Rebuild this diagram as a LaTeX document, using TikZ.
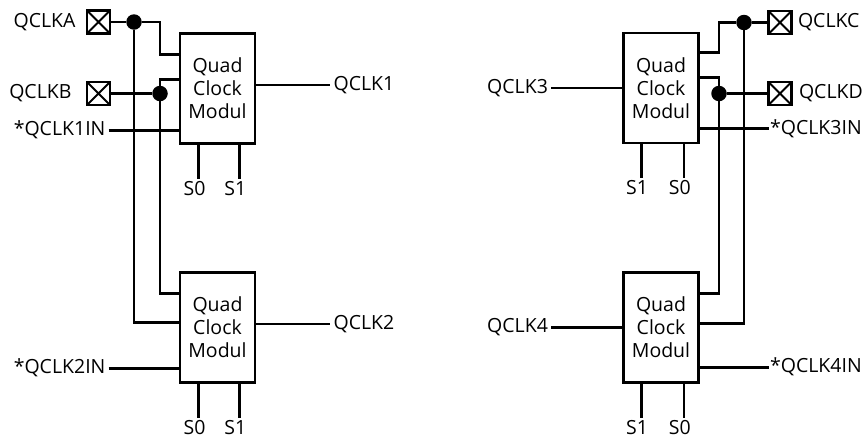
\documentclass[tikz,border=0pt]{standalone}
\usepackage{fontspec}
\setmainfont{Open Sans}
\usetikzlibrary{positioning,calc}

\begin{document}
\begin{tikzpicture}[x=1pt,y=-1pt,
    every node/.style={font=\fontsize{19.5}{23}\selectfont},
    wire/.style={line width=2.8pt},
    module/.style={draw,line width=2.8pt,rectangle,minimum width=75pt,minimum height=110pt,inner sep=0pt,align=center},
    pad/.style={draw,line width=2.6pt,rectangle,minimum size=23pt,inner sep=0pt,
        path picture={\draw[line width=2pt] (path picture bounding box.north west) -- (path picture bounding box.south east)
            (path picture bounding box.south west) -- (path picture bounding box.north east);}},
    junction/.style={circle,fill,minimum size=15.5pt,inner sep=0pt},
    sig/.style={inner sep=3pt},
    pinlbl/.style={inner sep=2pt,xshift=-4pt}]
    \useasboundingbox (0,0) rectangle (867,440);

    % modules
    \node (box1) [module] at (217.5,88.5) {Quad\\Clock\\Modul};
    \node (box2) [module] at (217.5,327.5) {Quad\\Clock\\Modul};
    \node (box3) [module] at (661,88) {Quad\\Clock\\Modul};
    \node (box4) [module] at (661,327.5) {Quad\\Clock\\Modul};

    % inputs on the modules
    \coordinate (b1a) at ($(box1.north west)+(0,22)$);
    \coordinate (b1b) at ($(box1.north west)+(0,47)$);
    \coordinate (b1c) at ($(box1.north west)+(0,98)$);
    \coordinate (b2a) at ($(box2.north west)+(0,22)$);
    \coordinate (b2b) at ($(box2.north west)+(0,51)$);
    \coordinate (b2c) at ($(box2.north west)+(0,97)$);
    \coordinate (b3a) at ($(box3.north east)+(0,21)$);
    \coordinate (b3b) at ($(box3.north east)+(0,46)$);
    \coordinate (b3c) at ($(box3.north east)+(0,97)$);
    \coordinate (b4a) at ($(box4.north east)+(0,22)$);
    \coordinate (b4b) at ($(box4.north east)+(0,52)$);
    \coordinate (b4c) at ($(box4.north east)+(0,96)$);

    % clock pads
    \node (padA) [pad] at (98.5,22) {};
    \node (padB) [pad] at (98.5,93.5) {};
    \node (padC) [pad] at (780,22.5) {};
    \node (padD) [pad] at (780,93.5) {};
    \node (lblA) [sig, left=7pt of padA] {QCLKA};
    \node (lblB) [sig, left=11pt of padB] {QCLKB};
    \node (lblC) [sig, right=2pt of padC] {QCLKC};
    \node (lblD) [sig, right=3pt of padD] {QCLKD};

    \node (dotA) [junction] at (134,22) {};
    \node (dotB) [junction] at (160,93.5) {};
    \node (dotC) [junction] at (744,22.5) {};
    \node (dotD) [junction] at (719,93.5) {};

    % left clock tree
    \draw[wire] (padA) -- (dotA) -| (dotB |- b1a) -- (b1a);
    \draw[wire] (dotA) |- (b2b);
    \draw[wire] (padB) -- (dotB);
    \draw[wire] (b1b) -| (dotB |- b2a) -- (b2a);

    % right clock tree
    \draw[wire] (padC) -- (dotC) -| (dotD |- b3a) -- (b3a);
    \draw[wire] (dotC) |- (b4b);
    \draw[wire] (padD) -- (dotD);
    \draw[wire] (b3b) -| (dotD |- b4a) -- (b4a);

    % feedback inputs
    \node (in1) [sig, left=70pt of b1c] {*QCLK1IN};
    \node (in2) [sig, left=70pt of b2c] {*QCLK2IN};
    \node (in3) [sig, inner sep=1pt, right=69pt of b3c] {*QCLK3IN};
    \node (in4) [sig, inner sep=1pt, right=69pt of b4c] {*QCLK4IN};
    \draw[wire] (in1) -- (b1c);
    \draw[wire] (in2) -- (b2c);
    \draw[wire] (b3c) -- (in3);
    \draw[wire] (b4c) -- (in4);

    % clock outputs
    \node (out1) [sig, right=74pt of box1, yshift=3.5pt] {QCLK1};
    \node (out2) [sig, right=74pt of box2, yshift=3.5pt] {QCLK2};
    \node (out3) [sig, left=71pt of box3] {QCLK3};
    \node (out4) [sig, left=71pt of box4] {QCLK4};
    \draw[wire] (box1.east |- out1) -- (out1);
    \draw[wire] (box2.east |- out2) -- (out2);
    \draw[wire] (out3) -- (box3);
    \draw[wire] (out4) -- (box4);

    % select pins
    \coordinate (p1a) at ($(box1.south west)+(20,0)$);
    \coordinate (p1b) at ($(box1.south east)+(-17,0)$);
    \coordinate (p2a) at ($(box2.south west)+(20,0)$);
    \coordinate (p2b) at ($(box2.south east)+(-17,0)$);
    \coordinate (p3a) at ($(box3.south west)+(19,0)$);
    \coordinate (p3b) at ($(box3.south east)+(-16,0)$);
    \coordinate (p4a) at ($(box4.south west)+(19,0)$);
    \coordinate (p4b) at ($(box4.south east)+(-16,0)$);
    \node (s1a) [pinlbl, below=34pt of p1a] {S0};
    \node (s1b) [pinlbl, below=34pt of p1b] {S1};
    \node (s2a) [pinlbl, below=34pt of p2a] {S0};
    \node (s2b) [pinlbl, below=34pt of p2b] {S1};
    \node (s3a) [pinlbl, below=34pt of p3a] {S1};
    \node (s3b) [pinlbl, below=34pt of p3b] {S0};
    \node (s4a) [pinlbl, below=34pt of p4a] {S1};
    \node (s4b) [pinlbl, below=34pt of p4b] {S0};
    \draw[wire] (p1a) -- (p1a |- s1a.north);
    \draw[wire] (p1b) -- (p1b |- s1b.north);
    \draw[wire] (p2a) -- (p2a |- s2a.north);
    \draw[wire] (p2b) -- (p2b |- s2b.north);
    \draw[wire] (p3a) -- (p3a |- s3a.north);
    \draw[wire] (p3b) -- (p3b |- s3b.north);
    \draw[wire] (p4a) -- (p4a |- s4a.north);
    \draw[wire] (p4b) -- (p4b |- s4b.north);
\end{tikzpicture}
\end{document}
